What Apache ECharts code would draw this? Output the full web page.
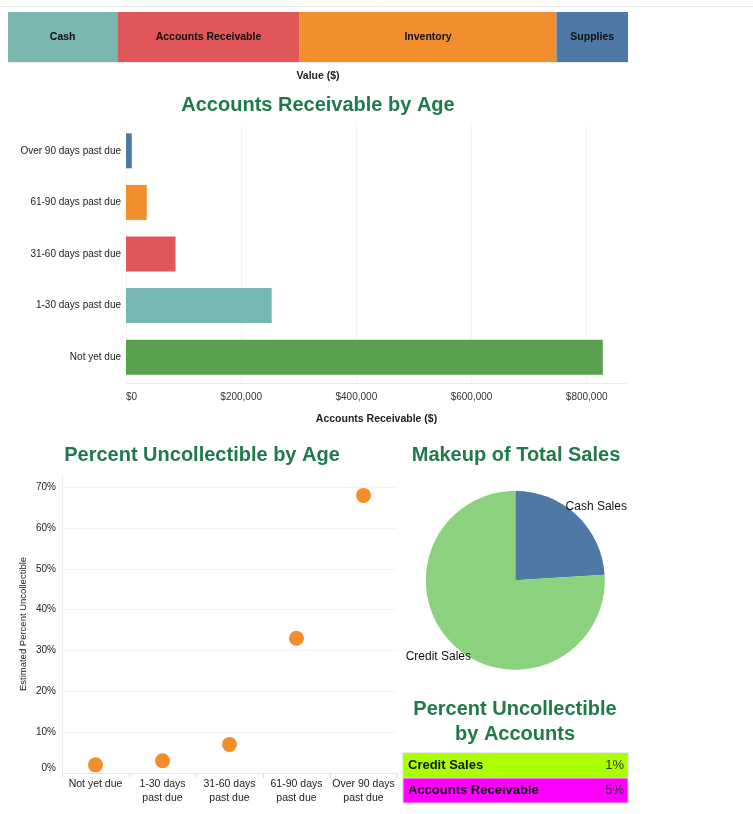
<!DOCTYPE html>
<html>
<head>
<meta charset="utf-8">
<script src="https://cdn.jsdelivr.net/npm/echarts@6/dist/echarts.min.js"></script>
<style>
html,body{margin:0;padding:0;background:#fff;}
#chart{width:753px;height:814px;}
</style>
</head>
<body>
<div id="chart"></div>
<script>
// ---- data ----
const assetNames = ['Cash', 'Accounts Receivable', 'Inventory', 'Supplies'];
const assetValues = [727000, 1213000, 1708000, 476000];

const arAges = ['Not yet due', '1-30 days past due', '31-60 days past due', '61-90 days past due', 'Over 90 days past due'];
const arValues = [828000, 253000, 86000, 36000, 10000];

const uncollCats = ['Not yet due', '1-30 days\npast due', '31-60 days\npast due', '61-90 days\npast due', 'Over 90 days\npast due'];
const uncollPct = [2, 3, 7, 33, 68];

const salesNames = ['Cash Sales', 'Credit Sales'];
const salesPct = [24, 76];

const acctNames = ['Credit Sales', 'Accounts Receivable'];
const acctPct = [1, 5];

// ---- styles ----
const FONT = 'Liberation Sans, Arial, sans-serif';
const TITLE_COLOR = '#1f7a4a';
const assetColors = ['#79b6b0', '#e15759', '#f28e2b', '#4e79a7'];
const arColors = ['#59a14f', '#76b7b2', '#e15759', '#f28e2b', '#4e79a7'];
const salesColors = ['#4e79a7', '#8cd17d'];
const acctColors = ['#aaff00', '#ff00ff'];

const assetTotal = assetValues.reduce((a, b) => a + b, 0);

const chart = echarts.init(document.getElementById('chart'), null, {renderer: 'canvas'});

const titleStyle = {fontFamily: FONT, fontSize: 20, fontWeight: 'bold', color: TITLE_COLOR};

const option = {
  backgroundColor: '#fff',
  animation: false,
  textStyle: {fontFamily: FONT},
  title: [
    {text: 'Accounts Receivable by Age', left: 318, top: 95, textAlign: 'center', textStyle: titleStyle, padding: 0},
    {text: 'Percent Uncollectible by Age', left: 202, top: 445, textAlign: 'center', textStyle: titleStyle, padding: 0},
    {text: 'Makeup of Total Sales', left: 516, top: 445, textAlign: 'center', textStyle: titleStyle, padding: 0},
    {text: 'Percent Uncollectible\nby Accounts', left: 515, top: 697, textAlign: 'center',
     textStyle: Object.assign({}, titleStyle, {lineHeight: 25}), padding: 0}
  ],
  graphic: [
    {type: 'line', shape: {x1: 0, y1: 6.5, x2: 753, y2: 6.5}, style: {stroke: '#ececec', lineWidth: 1}, silent: true}
  ],
  grid: [
    {left: 8, top: 12, width: 620, height: 50},
    {left: 126, top: 125, width: 501, height: 258},
    {left: 62, top: 475, width: 335, height: 298},
    {left: 403, top: 753, width: 225, height: 50}
  ],
  xAxis: [
    {gridIndex: 0, type: 'value', min: 0, max: assetTotal,
     name: 'Value ($)', nameLocation: 'middle', nameGap: 9,
     nameTextStyle: {fontSize: 10.5, fontWeight: 'bold', color: '#222', fontFamily: FONT},
     axisLabel: {show: false}, axisTick: {show: false}, splitLine: {show: false},
     axisLine: {show: true, lineStyle: {color: '#ececec'}}},
    {gridIndex: 1, type: 'value', min: 0, max: 870000, interval: 200000,
     name: 'Accounts Receivable ($)', nameLocation: 'middle', nameGap: 31,
     nameTextStyle: {fontSize: 10.5, fontWeight: 'bold', color: '#222', fontFamily: FONT},
     axisLine: {show: true, lineStyle: {color: '#ebebeb'}},
     axisTick: {show: false},
     splitLine: {show: true, showMaxLine: false, lineStyle: {color: '#f3f3f3'}},
     axisLabel: {fontSize: 10, color: '#333', margin: 9, alignMinLabel: 'left',
       formatter: v => (v % 200000 === 0) ? '$' + v.toLocaleString('en-US') : ''}},
    {gridIndex: 2, type: 'category', data: uncollCats, boundaryGap: true,
     axisLine: {show: true, lineStyle: {color: '#e6e6e6'}},
     axisTick: {show: true, length: 5, alignWithLabel: false, interval: 0, lineStyle: {color: '#e0e0e0'}},
     axisLabel: {fontSize: 10.5, color: '#222', margin: 4, lineHeight: 14, interval: 0}},
    {gridIndex: 3, type: 'value', min: 0, max: 1, show: false}
  ],
  yAxis: [
    {gridIndex: 0, type: 'category', data: ['Value'], show: false},
    {gridIndex: 1, type: 'category', data: arAges,
     axisLine: {show: false}, axisTick: {show: false},
     axisLabel: {fontSize: 10, color: '#222', margin: 5}},
    {gridIndex: 2, type: 'value', min: 0, max: 73, interval: 10,
     name: 'Estimated Percent Uncollectible', nameLocation: 'middle', nameGap: 34,
     nameTextStyle: {fontSize: 9.5, color: '#222', fontFamily: FONT},
     axisLine: {show: true, lineStyle: {color: '#ececec'}},
     axisTick: {show: false},
     splitLine: {show: true, showMaxLine: false, lineStyle: {color: '#f2f2f2'}},
     axisLabel: {fontSize: 10, color: '#222', margin: 6, verticalAlignMinLabel: 'bottom',
       formatter: v => (v % 10 === 0) ? v + '%' : ''}},
    {gridIndex: 3, type: 'category', data: acctNames, inverse: true, show: false}
  ],
  series: [
    ...assetNames.map((n, i) => ({
      type: 'bar', name: n, stack: 'assets', xAxisIndex: 0, yAxisIndex: 0,
      data: [assetValues[i]], barWidth: '100%',
      itemStyle: {color: assetColors[i]},
      label: {show: true, position: 'inside', formatter: '{a}', color: '#111',
              fontSize: 10.5, fontWeight: 'bold', fontFamily: FONT}
    })),
    {type: 'bar', xAxisIndex: 1, yAxisIndex: 1, barWidth: 35,
     data: arValues.map((v, i) => ({value: v, itemStyle: {color: arColors[i]}}))},
    {type: 'scatter', xAxisIndex: 2, yAxisIndex: 2, symbolSize: 15,
     itemStyle: {color: '#f28e2b', opacity: 1},
     data: uncollPct},
    {type: 'pie', center: [515.3, 580.3], radius: 89.5, startAngle: 90, clockwise: true,
     data: salesNames.map((n, i) => ({name: n, value: salesPct[i], itemStyle: {color: salesColors[i]}})),
     label: {show: true, position: 'outside', color: '#111', fontSize: 12, fontFamily: FONT},
     labelLine: {show: false, length: 0, length2: 0},
     labelLayout: p => p.dataIndex === 0 ? {dx: -16, dy: -8} : {dx: 22, dy: 11},
     emphasis: {disabled: true}},
    {type: 'custom', xAxisIndex: 3, yAxisIndex: 3,
     data: acctNames.map((n, i) => [0, i, acctPct[i]]),
     encode: {x: 0, y: 1},
     renderItem: (params, api) => {
       const idx = api.value(1);
       const c = api.coord([0, idx]);
       const band = api.size([0, 1])[1];
       const cs = params.coordSys;
       const y0 = c[1] - band / 2;
       return {
         type: 'group',
         children: [
           {type: 'rect', shape: {x: cs.x, y: y0, width: cs.width, height: band},
            style: {fill: acctColors[idx], stroke: '#d4d4d4', lineWidth: 1}},
           {type: 'text', style: {text: acctNames[idx], x: cs.x + 5, y: c[1], verticalAlign: 'middle',
             align: 'left', fontSize: 13, fontWeight: 'bold', fill: '#111', fontFamily: FONT}},
           {type: 'text', style: {text: api.value(2) + '%', x: cs.x + cs.width - 4, y: c[1], verticalAlign: 'middle',
             align: 'right', fontSize: 13, fill: '#333', fontFamily: FONT}}
         ]
       };
     }}
  ]
};
chart.setOption(option);
</script>
</body>
</html>
